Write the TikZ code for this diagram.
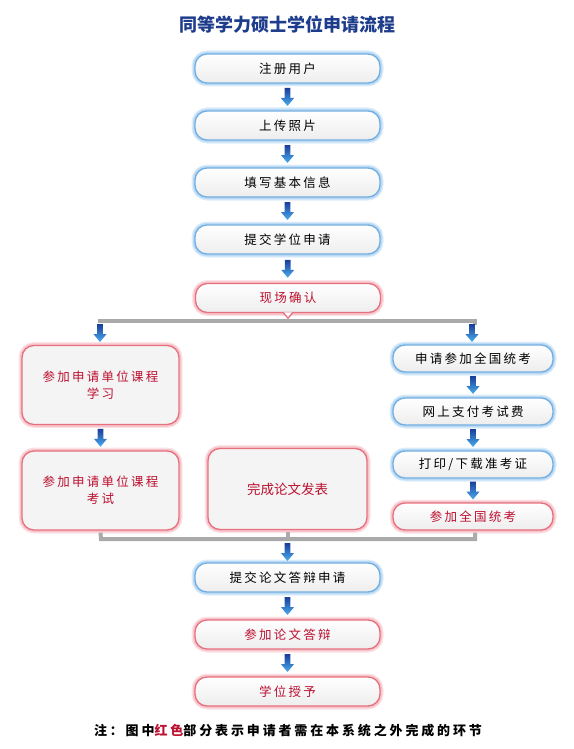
\documentclass[tikz,border=0pt]{standalone}
\usepackage{fontspec}
\setmainfont{Noto Sans CJK SC}
\newfontfamily\boxfont[LetterSpace=18]{Noto Sans CJK SC}
\newfontfamily\notefont[LetterSpace=22]{Noto Sans CJK SC}
\usetikzlibrary{calc}
\definecolor{titleblue}{HTML}{1E3C8C}
\definecolor{bluebd}{HTML}{72AEE0}
\definecolor{blueglow}{HTML}{A0CCF0}
\definecolor{redbd}{HTML}{E6707E}
\definecolor{redglow}{HTML}{F4B0BA}
\definecolor{redtxt}{HTML}{BC1030}
\definecolor{grayln}{HTML}{AAAAAA}
\definecolor{arrdark}{HTML}{1A3C9A}
\definecolor{arrlight}{HTML}{4AAEEE}
\definecolor{boxgray}{HTML}{F4F4F4}
\tikzset{
  box/.style={rounded corners=12pt, minimum width=185pt, minimum height=29pt,
    font=\fontsize{12.5}{17}\selectfont\boxfont, inner sep=0pt, align=center,
    line width=1.3pt},
  bluebox/.style={box,
    preaction={draw=blueglow, line width=7pt, opacity=0.35},
    preaction={draw=blueglow, line width=4.5pt, opacity=0.6},
    top color=white, bottom color=gray!14, draw=bluebd, text=black},
  redbox/.style={box,
    preaction={draw=redglow, line width=7pt, opacity=0.35},
    preaction={draw=redglow, line width=4.5pt, opacity=0.6},
    top color=white, bottom color=gray!14, draw=redbd, text=redtxt},
  bigred/.style={redbox, top color=boxgray, bottom color=boxgray,
    minimum width=157pt, minimum height=79pt},
  smallbox/.style={minimum width=160pt, minimum height=27pt},
  grayline/.style={draw=grayln, line width=4pt},
  barrow/.pic={
    \shade[top color=arrdark, bottom color=arrlight]
      (-2.8,-9) -- (2.8,-9) -- (2.8,1) -- (6.6,1) -- (0,9) -- (-6.6,1) -- (-2.8,1) -- cycle;
  }
}
\begin{document}
\begin{tikzpicture}[x=1pt, y=-1pt]
\useasboundingbox (0,0) rectangle (573,749);

\node[font=\fontsize{18}{20}\selectfont\bfseries, text=titleblue] (title) at (287,25) {同等学力硕士学位申请流程};

% main column
\node[bluebox] (n1) at (287.5,68.5) {注册用户};
\node[bluebox] (n2) at (287.5,125.5) {上传照片};
\node[bluebox] (n3) at (287.5,182.5) {填写基本信息};
\node[bluebox] (n4) at (287.5,239.5) {提交学位申请};
\node[redbox] (n5) at (288,298) {现场确认};
\filldraw[draw=redbd, fill=white, line width=1.3pt]
  ($(n5.south)+(-5,-0.8)$) -- ($(n5.south)+(0,5)$) -- ($(n5.south)+(5,-0.8)$);

\foreach \a/\b in {n1/n2, n2/n3, n3/n4, n4/n5}
  \pic at ($(\a.south)!0.5!(\b.north)$) {barrow};

% top split line
\coordinate (tl) at (98,321);
\coordinate (tr) at (475,321);
\draw[grayline] (tl) -- (tr) -- ++(0,4);

% left column
\node[bigred] (l1) at (100.5,385) {参加申请单位课程\\学习};
\node[bigred] (l2) at (100.5,490.5) {参加申请单位课程\\考试};
\node[bigred, minimum width=159pt, minimum height=81pt,
  font=\fontsize{13.5}{17}\selectfont] (m) at (287.5,489) {完成论文发表};

% right column
\node[bluebox, smallbox] (r1) at (473,358.5) {申请参加全国统考};
\node[bluebox, smallbox] (r2) at (473,411.5) {网上支付考试费};
\node[bluebox, smallbox] (r3) at (473,464.5) {打印/下载准考证};
\node[redbox, smallbox] (r4) at (473,516.5) {参加全国统考};

\pic at (100,333) {barrow};
\pic at (472,333) {barrow};
\pic at ($(l1.south)!0.5!(l2.north)$) {barrow};
\foreach \a/\b in {r1/r2, r2/r3, r3/r4}
  \pic at ($(\a.south)!0.5!(\b.north)$) {barrow};

% bottom join line
\coordinate (bl) at (101,539);
\coordinate (bm) at (287.5,539);
\coordinate (br) at (475,539);
\draw[grayline] ($(l2.south)+(0,2)$) -- (bl) -- (br) -- ($(r4.south)+(2,2)$);
\draw[grayline] ($(m.south)+(0,2)$) -- (bm);

% final column
\node[bluebox] (b1) at (287.5,577.5) {提交论文答辩申请};
\node[redbox] (b2) at (287.5,634.5) {参加论文答辩};
\node[redbox] (b3) at (287.5,691.5) {学位授予};
\pic at (287.5,552) {barrow};
\pic at ($(b1.south)!0.5!(b2.north)$) {barrow};
\pic at ($(b2.south)!0.5!(b3.north)$) {barrow};

\node[font=\fontsize{13}{16}\selectfont\notefont\bfseries] (note) at (288,731)
  {注：图中\textcolor{redtxt}{红色}部分表示申请者需在本系统之外完成的环节};
\end{tikzpicture}
\end{document}
